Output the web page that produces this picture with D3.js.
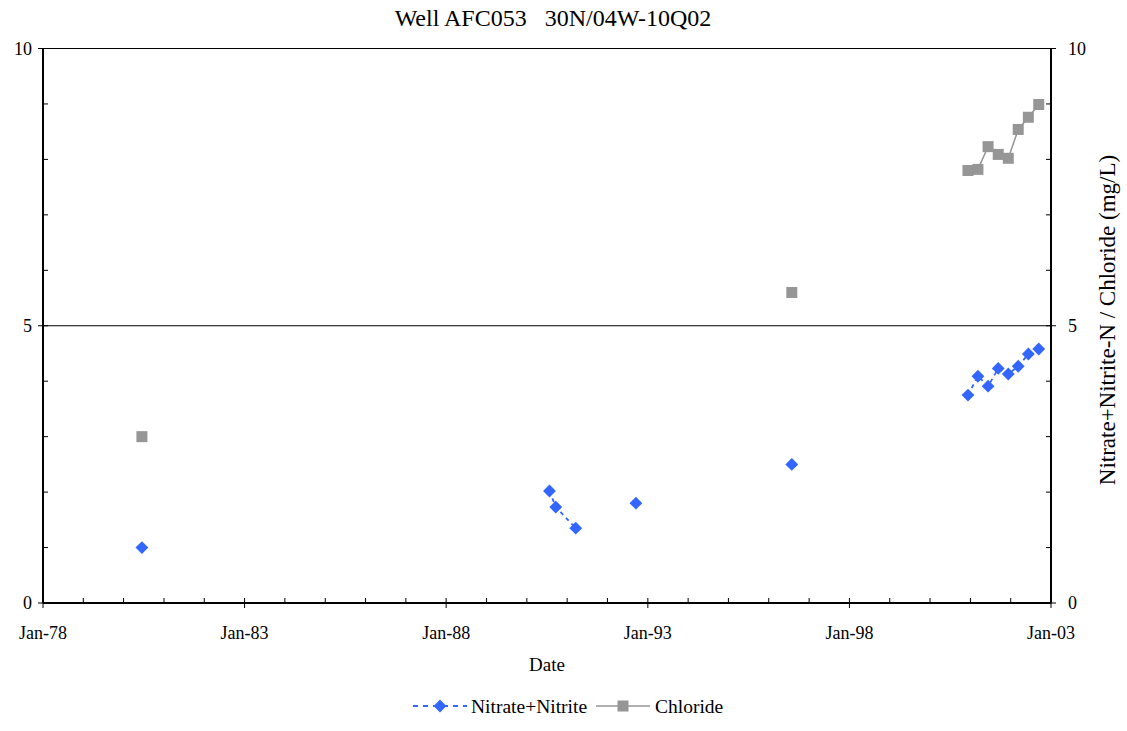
<!DOCTYPE html>
<html>
<head>
<meta charset="utf-8">
<script src="https://cdn.jsdelivr.net/npm/d3@7"></script>
<style>
body { margin:0; background:#fff; }
</style>
</head>
<body>
<svg id="chart" width="1127" height="731" font-family="'Liberation Serif', 'Times New Roman', serif"></svg>
<script>
// sample groups: points in one group are joined by a line, gaps between groups
var nitrateDates = [
  ["1980-06-15"],
  ["1990-07-25", "1990-09-20", "1991-03-20"],
  ["1992-09-15"],
  ["1996-07-28"],
  ["2000-12-10", "2001-03-10", "2001-06-10", "2001-09-10", "2001-12-10", "2002-03-10", "2002-06-10", "2002-09-12"]
];
var nitrateValues = [
  [1.0],
  [2.02, 1.73, 1.35],
  [1.80],
  [2.50],
  [3.75, 4.09, 3.91, 4.23, 4.13, 4.27, 4.49, 4.58]
];
var chlorideDates = [
  ["1980-06-15"],
  ["1996-07-28"],
  ["2000-12-10", "2001-03-10", "2001-06-10", "2001-09-10", "2001-12-10", "2002-03-10", "2002-06-10", "2002-09-12"]
];
var chlorideValues = [
  [3.0],
  [5.6],
  [7.80, 7.82, 8.23, 8.09, 8.02, 8.54, 8.76, 8.99]
];
var xTickLabels = ["Jan-78", "Jan-83", "Jan-88", "Jan-93", "Jan-98", "Jan-03"];
var yTicks = [0, 5, 10];

var parse = d3.timeParse("%Y-%m-%d");
var pLeft = 43, pRight = 1051, pTop = 48.5, pBottom = 603;
var serif = "'Liberation Serif', 'Times New Roman', serif";

var svg = d3.select('#chart');

var x = d3.scaleTime()
    .domain([new Date(1978, 0, 1), new Date(2003, 0, 1)])
    .range([pLeft, pRight]);
var y = d3.scaleLinear().domain([0, 10]).range([pBottom, pTop]);

// gridlines at 5 and 10
svg.selectAll('.grid').data([5, 10]).enter().append('line')
    .attr('x1', pLeft).attr('x2', pRight)
    .attr('y1', function(d){ return y(d); }).attr('y2', function(d){ return y(d); })
    .attr('stroke', '#000').attr('stroke-width', 1.2);

// y minor ticks (inside) on both sides
var minorY = d3.range(1, 10).filter(function(d){ return d != 5; });
minorY.forEach(function(d){
    svg.append('line').attr('x1', pLeft).attr('x2', pLeft + 5)
        .attr('y1', y(d)).attr('y2', y(d)).attr('stroke', '#000').attr('stroke-width', 1);
    svg.append('line').attr('x1', pRight).attr('x2', pRight - 5)
        .attr('y1', y(d)).attr('y2', y(d)).attr('stroke', '#000').attr('stroke-width', 1);
});
yTicks.forEach(function(d){
    svg.append('line').attr('x1', pLeft - 5).attr('x2', pLeft + 5)
        .attr('y1', y(d)).attr('y2', y(d)).attr('stroke', '#000').attr('stroke-width', 1);
    svg.append('line').attr('x1', pRight - 5).attr('x2', pRight + 5)
        .attr('y1', y(d)).attr('y2', y(d)).attr('stroke', '#000').attr('stroke-width', 1);
    svg.append('text').attr('x', pLeft - 11).attr('y', y(d) + 6).attr('font-family', serif)
        .attr('text-anchor', 'end').style('font-size', '18px').text(d);
    svg.append('text').attr('x', pRight + 17).attr('y', y(d) + 6).attr('font-family', serif)
        .attr('text-anchor', 'start').style('font-size', '18px').text(d);
});

// x ticks: yearly minor inside, 5-yearly major crossing
var years = d3.range(1978, 2004);
years.forEach(function(yr){
    var xx = x(new Date(yr, 0, 1));
    var major = (yr - 1978) % 5 == 0;
    svg.append('line').attr('x1', xx).attr('x2', xx)
        .attr('y1', major ? pBottom + 5 : pBottom).attr('y2', pBottom - 5)
        .attr('stroke', '#000').attr('stroke-width', 1);
});
xTickLabels.forEach(function(lbl, i){
    svg.append('text').attr('x', x(new Date(1978 + i * 5, 0, 1))).attr('y', 639)
        .attr('font-family', serif)
        .attr('text-anchor', 'middle').style('font-size', '18px').text(lbl);
});

// axes lines
svg.append('line').attr('x1', pLeft).attr('x2', pLeft).attr('y1', pTop).attr('y2', pBottom)
    .attr('stroke', '#000').attr('stroke-width', 2);
svg.append('line').attr('x1', pRight).attr('x2', pRight).attr('y1', pTop).attr('y2', pBottom)
    .attr('stroke', '#000').attr('stroke-width', 2);
svg.append('line').attr('x1', pLeft).attr('x2', pRight).attr('y1', pBottom).attr('y2', pBottom)
    .attr('stroke', '#000').attr('stroke-width', 2);

// series
var blue = '#3366ff', gray = '#969696';
var line = d3.line()
    .x(function(d){ return x(d.date); })
    .y(function(d){ return y(d.value); });

function toPoints(dates, values){
    return dates.map(function(g, gi){
        return g.map(function(ds, i){ return { date: parse(ds), value: values[gi][i] }; });
    });
}
var nitrate = toPoints(nitrateDates, nitrateValues);
var chloride = toPoints(chlorideDates, chlorideValues);

chloride.forEach(function(g){
    if (g.length > 1) svg.append('path').attr('d', line(g)).attr('fill', 'none')
        .attr('stroke', gray).attr('stroke-width', 1.5);
});
chloride.forEach(function(g){
    g.forEach(function(d){
        svg.append('rect').attr('x', x(d.date) - 5.5).attr('y', y(d.value) - 5.5)
            .attr('width', 11).attr('height', 11).attr('fill', gray);
    });
});
nitrate.forEach(function(g){
    if (g.length > 1) svg.append('path').attr('d', line(g)).attr('fill', 'none')
        .attr('stroke', blue).attr('stroke-width', 1.8).attr('stroke-dasharray', '4,4');
});
var diamond = d3.symbol().type(d3.symbolDiamond2).size(105);
nitrate.forEach(function(g){
    g.forEach(function(d){
        svg.append('path').attr('d', diamond())
            .attr('transform', 'translate(' + x(d.date) + ',' + y(d.value) + ')')
            .attr('fill', blue);
    });
});

// titles
svg.append('text').attr('x', 553).attr('y', 26).attr('text-anchor', 'middle').attr('font-family', serif)
    .style('font-size', '24px').attr('xml:space', 'preserve').text('Well AFC053   30N/04W-10Q02');
svg.append('text').attr('x', 547).attr('y', 671).attr('text-anchor', 'middle').attr('font-family', serif)
    .style('font-size', '19px').text('Date');
svg.append('text').attr('transform', 'translate(1115,320) rotate(-90)').attr('font-family', serif)
    .attr('text-anchor', 'middle').style('font-size', '23px')
    .text('Nitrate+Nitrite-N / Chloride (mg/L)');

// legend
var lg = svg.append('g');
lg.append('line').attr('x1', 413).attr('x2', 467).attr('y1', 706).attr('y2', 706)
    .attr('stroke', blue).attr('stroke-width', 1.8).attr('stroke-dasharray', '5,5');
lg.append('path').attr('d', diamond()).attr('transform', 'translate(440,706)').attr('fill', blue);
lg.append('text').attr('x', 471).attr('y', 713).attr('font-family', serif)
    .style('font-size', '19.5px').text('Nitrate+Nitrite');
lg.append('line').attr('x1', 596).attr('x2', 650).attr('y1', 706).attr('y2', 706)
    .attr('stroke', gray).attr('stroke-width', 1.5);
lg.append('rect').attr('x', 617.5).attr('y', 700.5).attr('width', 11).attr('height', 11).attr('fill', gray);
lg.append('text').attr('x', 655).attr('y', 713).attr('font-family', serif)
    .style('font-size', '19.5px').text('Chloride');
</script>
</body>
</html>
